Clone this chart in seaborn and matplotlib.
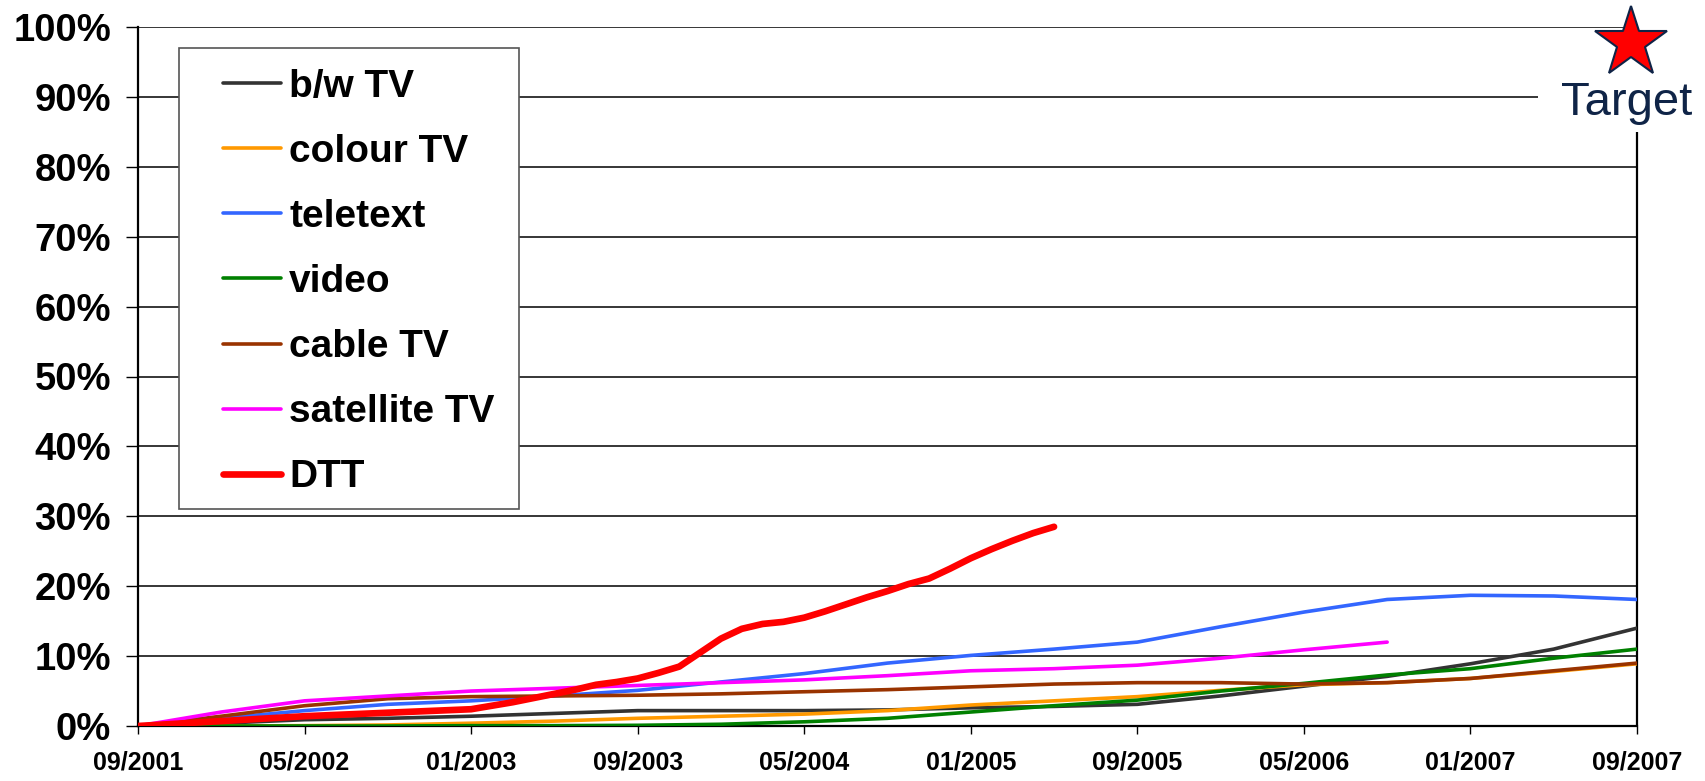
import matplotlib
matplotlib.use("Agg")
import matplotlib.pyplot as plt
import seaborn as sns
from matplotlib.patches import Rectangle

sns.set_style("white")
plt.rcParams['font.family'] = ['Liberation Sans', 'DejaVu Sans']
plt.rcParams['text.color'] = 'black'
plt.rcParams['axes.labelcolor'] = 'black'

# ---------------- data (months since 09/2001, penetration %) ----------------
tick_months = [0, 8, 16, 24, 32, 40, 48, 56, 64, 72]
tick_labels = ["09/2001", "05/2002", "01/2003", "09/2003", "05/2004",
               "01/2005", "09/2005", "05/2006", "01/2007", "09/2007"]
y_ticks = [0, 10, 20, 30, 40, 50, 60, 70, 80, 90, 100]

months = [0, 4, 8, 12, 16, 20, 24, 28, 32, 36, 40, 44, 48, 52, 56, 60, 64, 68, 72]
bw_tv = [0, 0.4, 0.9, 1.1, 1.4, 1.8, 2.2, 2.2, 2.2, 2.3, 2.6, 2.8, 3.1, 4.3, 5.7, 7.1, 8.9, 11.0, 14.0]
colour_tv = [0, 0, 0.05, 0.15, 0.4, 0.7, 1.1, 1.4, 1.7, 2.2, 3.0, 3.6, 4.2, 5.1, 5.9, 6.2, 6.8, 7.8, 8.9]
teletext = [0, 1.1, 2.2, 3.1, 3.6, 4.3, 5.1, 6.3, 7.5, 9.0, 10.1, 11.0, 12.0, 14.2, 16.3, 18.1, 18.7, 18.6, 18.1]
video = [0, 0, 0, 0, 0.05, 0.05, 0.1, 0.25, 0.6, 1.1, 2.0, 2.9, 3.7, 5.0, 6.1, 7.3, 8.2, 9.7, 11.0]
cable_tv = [0, 1.4, 2.9, 3.9, 4.2, 4.3, 4.4, 4.6, 4.9, 5.2, 5.6, 6.0, 6.2, 6.2, 6.0, 6.2, 6.8, 7.9, 9.0]

sat_months = [0, 4, 8, 12, 16, 20, 24, 28, 32, 36, 40, 44, 48, 52, 56, 60]
satellite_tv = [0, 2.0, 3.6, 4.3, 5.0, 5.4, 5.8, 6.2, 6.6, 7.2, 7.9, 8.2, 8.7, 9.7, 10.9, 12.0]

dtt_months = [0, 4, 8, 12, 16, 17, 18, 19, 20, 21, 22, 23, 24, 25, 26, 27, 28, 29,
              30, 31, 32, 33, 34, 35, 36, 37, 38, 39, 40, 41, 42, 43, 44]
dtt = [0, 0.7, 1.4, 1.9, 2.4, 2.9, 3.4, 4.0, 4.6, 5.2, 5.9, 6.3, 6.8, 7.6, 8.5, 10.5,
       12.5, 13.9, 14.6, 14.9, 15.5, 16.4, 17.4, 18.4, 19.3, 20.3, 21.1, 22.5, 24.0,
       25.3, 26.5, 27.6, 28.5]

target_month = 71.7
target_value = 97.7

series = [
    ("b/w TV", months, bw_tv, "#333333", 2.6),
    ("colour TV", months, colour_tv, "#FF9900", 2.6),
    ("teletext", months, teletext, "#3366FF", 2.6),
    ("video", months, video, "#008000", 2.6),
    ("cable TV", months, cable_tv, "#993300", 2.6),
    ("satellite TV", sat_months, satellite_tv, "#FF00FF", 2.6),
    ("DTT", dtt_months, dtt, "#FF0000", 4.8),
]

# ---------------- figure ----------------
W, H = 1705, 781
fig = plt.figure(figsize=(W / 100, H / 100), dpi=100)
ax = fig.add_axes([138 / W, 1 - 726 / H, 1499 / W, 699 / H])

for name, xs, ys, col, lw in series:
    sns.lineplot(x=xs, y=ys, ax=ax, color=col, linewidth=lw, label=name,
                 estimator=None, sort=False, solid_capstyle='round', zorder=3)

ax.set_xlim(0, 72)
ax.set_ylim(0, 100)
ax.set_xticks(tick_months)
ax.set_xticklabels(tick_labels, fontsize=18, fontweight='bold')
ax.set_yticks(y_ticks)
ax.set_yticklabels([f"{v}%" for v in y_ticks], fontsize=27.5, fontweight='bold')
ax.set_xlabel("")
ax.set_ylabel("")

ax.yaxis.grid(True, color='black', linewidth=1.1)
ax.xaxis.grid(False)
ax.set_axisbelow(True)

for s in ["top", "right"]:
    ax.spines[s].set_visible(False)
for s in ["left", "bottom"]:
    ax.spines[s].set_color("black")
    ax.spines[s].set_linewidth(1.6)
ax.axvline(72, ymin=0, ymax=(726 - 132) / 699, color='black', lw=1.6, clip_on=False, zorder=2.5)

ax.tick_params(axis='y', left=True, direction='out', length=8.5, width=1.0, pad=11, colors='black')
ax.tick_params(axis='x', bottom=True, direction='out', length=6, width=1.0, pad=12, colors='black')

# legend frame and legend
ax.add_patch(Rectangle(((179 - 138) / 1499, (726 - 509) / 699), (519 - 179) / 1499, (509 - 48) / 699,
                       transform=ax.transAxes, facecolor='white', edgecolor='#555555',
                       linewidth=1.2, zorder=1.5))
leg = ax.legend(loc='upper left', bbox_to_anchor=((223 - 138) / 1499, (726 - 68.5) / 699),
                frameon=False, prop={'weight': 'bold', 'size': 28}, handlelength=1.5,
                handletextpad=0.2, labelspacing=0.75, borderpad=0, borderaxespad=0)
for t in leg.get_texts():
    t.set_color('black')
leg.set_zorder(4)

# target marker
ax.plot([target_month], [target_value], marker='*', markersize=54, color='#FF0000',
        markeredgecolor='#0f2447', markeredgewidth=1.5, clip_on=False, zorder=6)
fig.add_artist(Rectangle((1538 / W, 1 - 132 / H), (W - 1538) / W, (132 - 74) / H,
                         transform=fig.transFigure, facecolor='white', edgecolor='none', zorder=3))
fig.text(1627 / W, 1 - 115 / H, "Target", ha='center', va='baseline', fontsize=34,
         color='#0f2447', zorder=4)

fig.savefig("out.png", dpi=100)
